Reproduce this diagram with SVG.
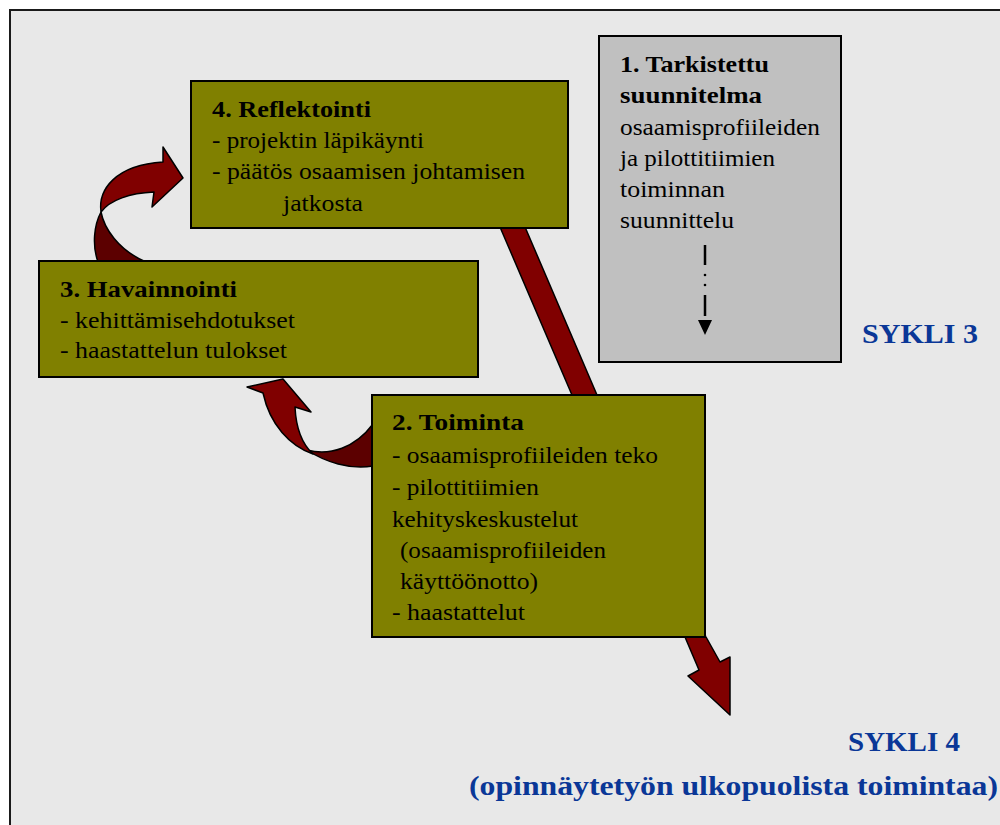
<svg xmlns="http://www.w3.org/2000/svg" width="1000" height="825" viewBox="0 0 1000 825">
  <style>
    .box { fill: #808000; stroke: #000; stroke-width: 2; }
    .plan { fill: #c0c0c0; stroke: #000; stroke-width: 2; }
    .t { font-family: "Liberation Serif", "Times New Roman", serif; font-size: 23px; fill: #000; }
    .b { font-weight: bold; }
    .ribbon { fill: #800000; stroke: #000; stroke-width: 1.5; stroke-linejoin: round; }
    .ribbon-back { fill: #5c0000; stroke: #000; stroke-width: 1.5; stroke-linejoin: round; }
    .cycle { font-family: "Liberation Serif", "Times New Roman", serif; font-weight: bold; font-size: 28px; fill: #0a3797; }
  </style>

  <!-- page background and frame -->
  <rect x="0" y="0" width="1000" height="825" fill="#ffffff"/>
  <rect x="10" y="10" width="1010" height="830" fill="#e8e8e8" stroke="#1a1a1a" stroke-width="2"/>

  <!-- connectors -->
  <g id="connectors">
    <!-- straight arrow from reflection through action, leaving the cycle -->
    <polygon class="ribbon" points="497,220 572,395 685,637 699,670 688,676 730,715 730,657 720,662 706,637 597,395 522,220"/>
    <!-- curved arrow: observation -> reflection (twisted ribbon) -->
    <path class="ribbon-back" d="M98,262 C92,245 94,225 101,212 C104,228 118,250 146,262 Z"/>
    <path class="ribbon" d="M101,212 C98,190 115,165 163,162 L163,147 L183,178 L152,207 L154,192 C130,193 110,200 101,212 Z"/>
    <!-- curved arrow: action -> observation (twisted ribbon) -->
    <path class="ribbon-back" d="M307,450 C330,456 355,448 373,424 L373,466 C350,470 325,462 307,450 Z"/>
    <path class="ribbon" d="M313,454 C290,446 270,425 263,393 L247,387 L283,379 L311,412 L295,407 C296,428 302,444 313,454 Z"/>
  </g>

  <!-- step 1: revised plan -->
  <g id="step1">
    <rect class="plan" x="599" y="36" width="242" height="326"/>
    <text class="t b" x="620" y="72" textLength="149" lengthAdjust="spacingAndGlyphs">1. Tarkistettu</text>
    <text class="t b" x="620" y="103" textLength="142" lengthAdjust="spacingAndGlyphs">suunnitelma</text>
    <text class="t" x="620" y="135" textLength="200" lengthAdjust="spacingAndGlyphs">osaamisprofiileiden</text>
    <text class="t" x="620" y="166" textLength="155" lengthAdjust="spacingAndGlyphs">ja pilottitiimien</text>
    <text class="t" x="620" y="197" textLength="105" lengthAdjust="spacingAndGlyphs">toiminnan</text>
    <text class="t" x="620" y="228" textLength="114" lengthAdjust="spacingAndGlyphs">suunnittelu</text>
    <!-- dash-dot planning arrow -->
    <g stroke="#000" stroke-width="2.5">
      <line x1="705" y1="245" x2="705" y2="265"/>
      <line x1="705" y1="295" x2="705" y2="316"/>
    </g>
    <circle cx="705" cy="275" r="1.3" fill="#000"/>
    <circle cx="705" cy="285" r="1.3" fill="#000"/>
    <polygon points="698,320 712,320 705,335" fill="#000"/>
  </g>

  <!-- step 4: reflection -->
  <g id="step4">
    <rect class="box" x="191" y="81" width="377" height="147"/>
    <text class="t b" x="212" y="117" textLength="159" lengthAdjust="spacingAndGlyphs">4. Reflektointi</text>
    <text class="t" x="212" y="148" textLength="212" lengthAdjust="spacingAndGlyphs">- projektin läpikäynti</text>
    <text class="t" x="212" y="179" textLength="313" lengthAdjust="spacingAndGlyphs">- päätös osaamisen johtamisen</text>
    <text class="t" x="283" y="211" textLength="80" lengthAdjust="spacingAndGlyphs">jatkosta</text>
  </g>

  <!-- step 3: observation -->
  <g id="step3">
    <rect class="box" x="39" y="261" width="439" height="116"/>
    <text class="t b" x="60" y="297" textLength="177" lengthAdjust="spacingAndGlyphs">3. Havainnointi</text>
    <text class="t" x="60" y="328" textLength="235" lengthAdjust="spacingAndGlyphs">- kehittämisehdotukset</text>
    <text class="t" x="60" y="358" textLength="227" lengthAdjust="spacingAndGlyphs">- haastattelun tulokset</text>
  </g>

  <!-- step 2: action -->
  <g id="step2">
    <rect class="box" x="372" y="395" width="333" height="242"/>
    <text class="t b" x="392" y="430" textLength="132" lengthAdjust="spacingAndGlyphs">2. Toiminta</text>
    <text class="t" x="392" y="463" textLength="266" lengthAdjust="spacingAndGlyphs">- osaamisprofiileiden teko</text>
    <text class="t" x="392" y="495" textLength="147" lengthAdjust="spacingAndGlyphs">- pilottitiimien</text>
    <text class="t" x="392" y="527" textLength="186" lengthAdjust="spacingAndGlyphs">kehityskeskustelut</text>
    <text class="t" x="400" y="558" textLength="206" lengthAdjust="spacingAndGlyphs">(osaamisprofiileiden</text>
    <text class="t" x="400" y="589" textLength="138" lengthAdjust="spacingAndGlyphs">käyttöönotto)</text>
    <text class="t" x="392" y="620" textLength="133" lengthAdjust="spacingAndGlyphs">- haastattelut</text>
  </g>

  <!-- cycle labels -->
  <g id="cycle3">
    <text class="cycle" x="862" y="343" textLength="116" lengthAdjust="spacingAndGlyphs">SYKLI 3</text>
  </g>
  <g id="cycle4">
    <text class="cycle" x="848" y="751" textLength="112" lengthAdjust="spacingAndGlyphs">SYKLI 4</text>
    <text class="cycle" x="469" y="795" textLength="529" lengthAdjust="spacingAndGlyphs">(opinnäytetyön ulkopuolista toimintaa)</text>
  </g>
</svg>
